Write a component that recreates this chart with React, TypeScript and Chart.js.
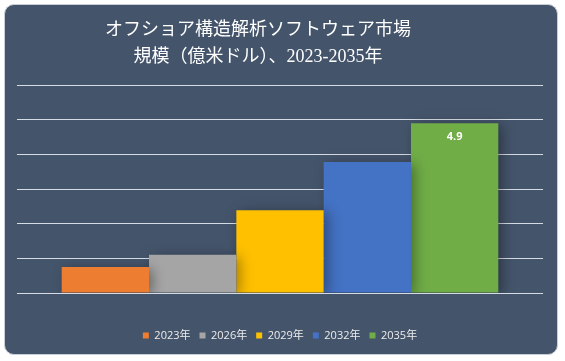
import React, { useEffect, useRef } from "react";
import { Chart, registerables } from "chart.js";

Chart.register(...registerables);

const titleLines = ["オフショア構造解析ソフトウェア市場", "規模（億米ドル）、2023-2035年"];
const categories = [""];
const years = ["2023年", "2026年", "2029年", "2032年", "2035年"];
const values = [0.75, 1.1, 2.39, 3.78, 4.9];
const colors = ["#ED7D31", "#A5A5A5", "#FFC000", "#4472C4", "#70AD47"];
const labeledYear = "2035年";

const titlePlugin = {
  id: "offsetTitle",
  afterDraw(chart: any) {
    const ctx = chart.ctx;
    ctx.save();
    ctx.fillStyle = "#FFFFFF";
    ctx.font = "18px 'Liberation Serif', 'Noto Sans CJK JP', serif";
    ctx.textAlign = "center";
    ctx.textBaseline = "middle";
    const cx = 253;
    titleLines.forEach((t, i) => ctx.fillText(t, cx, 25 + i * 27));
    ctx.restore();
  },
};

const shadowPlugin = {
  id: "barShadow",
  beforeDatasetsDraw(chart: any) {
    const ctx = chart.ctx;
    ctx.save();
    ctx.shadowColor = "rgba(0,0,0,0.35)";
    ctx.shadowBlur = 12;
    ctx.shadowOffsetX = 4;
    ctx.shadowOffsetY = 2;
  },
  afterDatasetsDraw(chart: any) {
    chart.ctx.restore();
  },
};

const labelPlugin = {
  id: "valueLabel",
  afterDatasetsDraw(chart: any) {
    const ctx = chart.ctx;
    chart.data.datasets.forEach((ds: any, i: number) => {
      if (ds.label !== labeledYear) return;
      const meta = chart.getDatasetMeta(i);
      meta.data.forEach((bar: any, j: number) => {
        ctx.save();
        ctx.fillStyle = "#FFFFFF";
        ctx.font = "bold 11px 'Open Sans', 'Noto Sans CJK JP', sans-serif";
        ctx.textAlign = "center";
        ctx.textBaseline = "middle";
        ctx.fillText(String(ds.data[j]), bar.x, bar.y + 14);
        ctx.restore();
      });
    });
  },
};

export default function App() {
  const ref = useRef<HTMLCanvasElement>(null);
  useEffect(() => {
    if (!ref.current) return;
    const chart = new Chart(ref.current, {
      type: "bar",
      data: {
        labels: categories,
        datasets: years.map((y, i) => ({
          label: y,
          data: [values[i]],
          backgroundColor: colors[i],
          borderWidth: 0,
          categoryPercentage: 0.83,
          barPercentage: 1,
        })),
      },
      options: {
        animation: false,
        responsive: false,
        maintainAspectRatio: false,
        layout: { padding: { left: 12, right: 14, top: 80, bottom: 3 } },
        plugins: {
          title: { display: false },
          legend: {
            display: true,
            position: "bottom",
            labels: {
              color: "#EDEDED",
              boxWidth: 6,
              boxHeight: 6,
              padding: 9,
              font: { family: "'Open Sans', 'Noto Sans CJK JP', sans-serif", size: 11 },
            },
          },
          tooltip: { enabled: false },
        },
        scales: {
          x: {
            display: true,
            offset: true,
            grid: { display: false },
            border: { display: false },
            ticks: { display: false },
            afterFit: (scale: any) => {
              scale.height = 28;
            },
          },
          y: {
            min: 0,
            max: 6,
            ticks: { display: false, stepSize: 1 },
            border: { display: false },
            grid: { color: "#D6DCE5", lineWidth: 1, drawTicks: false },
          },
        },
      },
      plugins: [titlePlugin, shadowPlugin, labelPlugin],
    });
    return () => chart.destroy();
  }, []);

  return (
    <div style={{ position: "absolute", left: 0, top: 0, width: 565, height: 361, background: "#FFFFFF" }}>
      <div
        style={{
          position: "absolute",
          left: 4,
          top: 4,
          width: 554,
          height: 351,
          boxSizing: "border-box",
          border: "1px solid #C9CED6",
          borderRadius: 10,
          background: "#44546A",
          overflow: "hidden",
        }}
      >
        <canvas ref={ref} width={552} height={349} style={{ display: "block" }} />
      </div>
    </div>
  );
}
